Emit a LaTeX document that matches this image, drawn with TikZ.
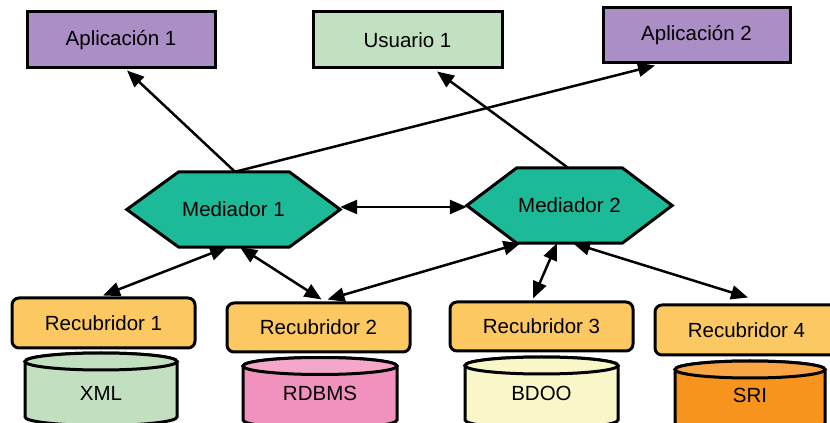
\documentclass[tikz,border=0pt]{standalone}
\usepackage{fontspec}
\setmainfont{Liberation Sans}
\usetikzlibrary{arrows.meta,calc}
\definecolor{appviolet}{HTML}{AB8EC6}
\definecolor{usergreen}{HTML}{C2E1C1}
\definecolor{medteal}{HTML}{1DBA99}
\definecolor{wraporange}{HTML}{FCC862}
\definecolor{xmlgreen}{HTML}{C2E0C0}
\definecolor{dbpink}{HTML}{F191BE}
\definecolor{dbpinktop}{HTML}{F5A6CB}
\definecolor{dbcream}{HTML}{F9F7C8}
\definecolor{dborange}{HTML}{F7941E}
\definecolor{dborangetop}{HTML}{F9A445}
\newcommand\dbcylinder[6]{%
  \filldraw[line width=3pt, fill=#5]
    ({#1-#2},#3) -- ({#1-#2},#4)
    arc[start angle=180, end angle=360, x radius=#2, y radius=8.5]
    -- ({#1+#2},#3)
    arc[start angle=0, end angle=180, x radius=#2, y radius=8.5] -- cycle;
  \filldraw[line width=3pt, fill=#6] (#1,#3) ellipse[x radius=#2, y radius=8.5];
}
\begin{document}
\begin{tikzpicture}[x=1pt,y=1pt,
  every node/.style={font=\fontsize{20.5}{24}\selectfont},
  box/.style={draw, line width=3pt, inner sep=0pt, minimum height=56pt},
  app/.style={box, fill=appviolet, minimum width=188pt},
  user/.style={box, fill=usergreen, minimum width=189pt},
  wrapbox/.style={draw, line width=3pt, rounded corners=7pt, fill=wraporange,
     minimum width=183pt, minimum height=49pt, inner sep=0pt},
  hexbox/.style={minimum width=#1, minimum height=75pt, inner sep=0pt},
  hexline/.style={draw, line width=3pt, fill=medteal, line join=miter},
  link/.style={line width=2.5pt, -{Triangle[length=17pt,width=14pt]}},
  bilink/.style={line width=2.5pt, {Triangle[length=17pt,width=14pt]}-{Triangle[length=17pt,width=14pt]}}
]
\useasboundingbox (0,0) rectangle (830,423);
\clip (0,0) rectangle (830,423);

% top boxes
\node[app] (app1) at (121,383) {Aplicación 1};
\node[user] (us1) at (407.5,383) {Usuario 1};
\node[app, minimum height=55pt, minimum width=187pt] (app2) at (696.5,387.5) {Aplicación 2};

% mediators
\node[hexbox=213pt] (m1) at (233.5,213.5) {};
\filldraw[hexline] (m1.west) -- ([xshift=52pt]m1.north west) -- ([xshift=-51pt]m1.north east)
  -- (m1.east) -- ([xshift=-51pt]m1.south east) -- ([xshift=52pt]m1.south west) -- cycle;
\node at (m1) {Mediador 1};
\node[hexbox=205pt] (m2) at (569.5,217.5) {};
\filldraw[hexline] (m2.west) -- ([xshift=50pt]m2.north west) -- ([xshift=-50pt]m2.north east)
  -- (m2.east) -- ([xshift=-50pt]m2.south east) -- ([xshift=50pt]m2.south west) -- cycle;
\node at (m2) {Mediador 2};

% wrappers
\node[wrapbox, minimum height=50pt] (r1) at (103.5,100) {Recubridor 1};
\node[wrapbox] (r2) at (318.5,95.5) {Recubridor 2};
\node[wrapbox] (r3) at (541.5,96.5) {Recubridor 3};
\node[wrapbox, minimum height=50pt] (r4) at (746.5,93) {Recubridor 4};

% sources
\dbcylinder{101}{76}{61.5}{6}{xmlgreen}{xmlgreen}
\dbcylinder{320}{77}{57}{3}{dbpink}{dbpinktop}
\dbcylinder{541.5}{76.5}{57.5}{3}{dbcream}{dbcream}
\dbcylinder{750}{75}{53.5}{0}{dborange}{dborangetop}
\node (xml) at (101,30) {XML};
\node (rdbms) at (320,30) {RDBMS};
\node (bdoo) at (541.5,30) {BDOO};
\node (sri) at (750,28) {SRI};

% connectors
\draw[link] ([xshift=1.5pt]m1.north) -- ([xshift=6pt,yshift=-1pt]app1.south);
\draw[link] ([xshift=1.5pt]m1.north) -- ([xshift=-41.5pt,yshift=-1pt]app2.south);
\draw[link] ([xshift=-1.5pt]m2.north) -- ([xshift=29.5pt,yshift=-2pt]us1.south);
\draw[bilink] ([yshift=2.5pt]m1.east) -- ([yshift=-1.5pt]m2.west);
\draw[bilink] ([xshift=-0.5pt,yshift=1pt]r1.north) -- ([xshift=-6.5pt]m1.south);
\draw[bilink] ([xshift=6.5pt]m1.south) -- ([xshift=3pt,yshift=2pt]r2.north);
\draw[bilink] ([xshift=9pt,yshift=2pt]r2.north) -- ([xshift=-49pt]m2.south);
\draw[bilink] ([xshift=-8.5pt,yshift=2pt]r3.north) -- ([xshift=-12.5pt]m2.south);
\draw[bilink] ([xshift=3.5pt]m2.south) -- ([xshift=1.5pt,yshift=6pt]r4.north);
\end{tikzpicture}
\end{document}
